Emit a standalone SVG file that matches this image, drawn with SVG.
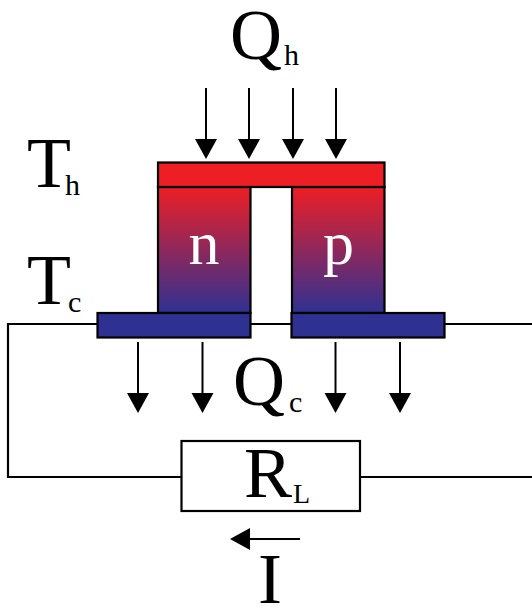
<svg xmlns="http://www.w3.org/2000/svg" width="532" height="607" viewBox="0 0 532 607">
<style>
.w{fill:none;stroke:#000;stroke-width:2.2}
.b{stroke:#000;stroke-width:2.2}
.a{stroke:#000;stroke-width:2;fill:none}
.h{fill:#000;stroke:none}
text{font-family:"Liberation Serif","Times New Roman",serif;fill:#000}
.L{font-size:72px}
.s{font-size:30px}
.t{font-size:62px;fill:#fff}
</style>
<defs>
<linearGradient id="g" x1="0" y1="0" x2="0" y2="1"><stop offset="0" stop-color="#ed1f24"/><stop offset="1" stop-color="#2e3192"/></linearGradient>
<path id="ah" class="h" d="M-11-20H11L0 0Z"/>
</defs>
<rect width="532" height="607" fill="#fff"/>
<g id="connectors">
<path class="w" d="M97 324H8V477H181M250 324H292M444 324H532M360 477H532"/>
<path class="a" d="M206 88V140M249 88V140M293 88V140M336 88V140M138 342V394M202.500 342V394M335.500 342V394M400 342V394M300 539H248"/>
<use href="#ah" x="206" y="159"/><use href="#ah" x="249" y="159"/><use href="#ah" x="293" y="159"/><use href="#ah" x="336" y="159"/>
<use href="#ah" x="138" y="413"/><use href="#ah" x="202.500" y="413"/><use href="#ah" x="335.500" y="413"/><use href="#ah" x="400" y="413"/>
<path class="h" d="M230 539L250 528V550Z"/>
</g>
<g id="leg-n"><rect class="b" x="158" y="187" width="92.500" height="126" fill="url(#g)"/><text class="t" x="204" y="264" text-anchor="middle">n</text></g>
<g id="leg-p"><rect class="b" x="292" y="187" width="92.500" height="126" fill="url(#g)"/><text class="t" x="338.500" y="264" text-anchor="middle">p</text></g>
<g id="hot-plate"><rect class="b" x="158" y="162.500" width="226.500" height="24.500" fill="#ed1f24"/></g>
<g id="cold-left"><rect class="b" x="97.500" y="313" width="153" height="24.500" fill="#2e3192"/></g>
<g id="cold-right"><rect class="b" x="291.500" y="313" width="153" height="24.500" fill="#2e3192"/></g>
<g id="resistor"><rect class="b" x="181.500" y="441" width="178.500" height="70" fill="#fff"/><text class="L" x="244" y="497">R</text><text style="font-size:28px" x="293" y="503">L</text></g>
<g id="label-qh"><text class="L" x="230" y="59">Q</text><text class="s" x="284" y="65">h</text></g>
<g id="label-qc"><text class="L" x="233" y="405">Q</text><text class="s" x="289" y="412">c</text></g>
<g id="label-th"><text class="L" x="27" y="187">T</text><text class="s" x="65" y="195">h</text></g>
<g id="label-tc"><text class="L" x="27" y="304">T</text><text class="s" x="68" y="312">c</text></g>
<g id="label-i"><text class="L" x="258" y="603">I</text></g>
</svg>
